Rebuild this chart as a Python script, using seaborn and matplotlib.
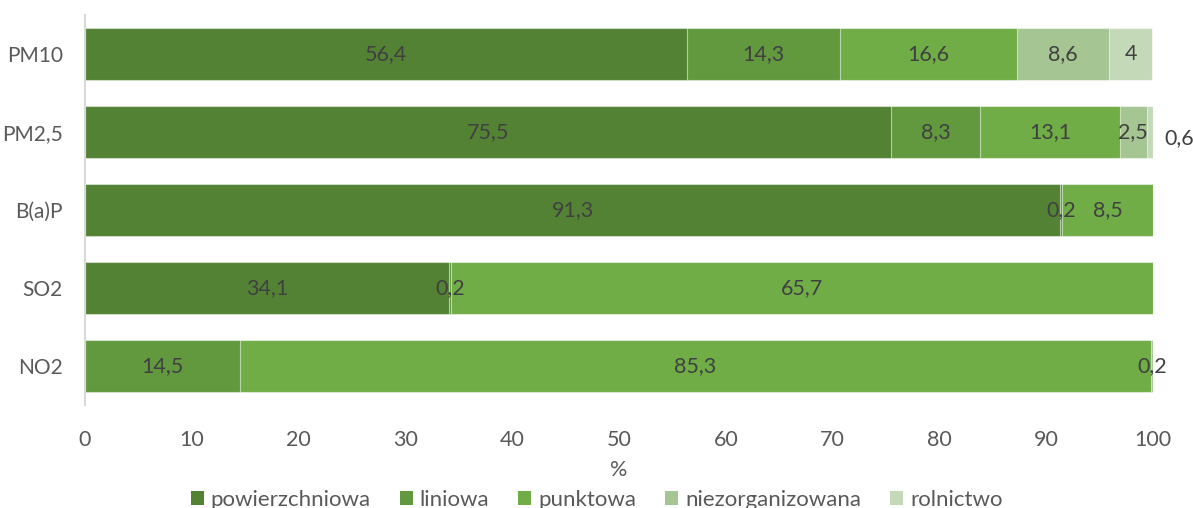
import matplotlib
matplotlib.use("Agg")
import matplotlib.pyplot as plt
from matplotlib.patches import Patch
import seaborn as sns
import pandas as pd
import numpy as np

categories = ["PM10", "PM2,5", "B(a)P", "SO2", "NO2"]
series = ["powierzchniowa", "liniowa", "punktowa", "niezorganizowana", "rolnictwo"]
powierzchniowa = [56.4, 75.5, 91.3, 34.1, 0.0]
liniowa = [14.3, 8.3, 0.2, 0.2, 14.5]
punktowa = [16.6, 13.1, 8.5, 65.7, 85.3]
niezorganizowana = [8.6, 2.5, 0.0, 0.0, 0.2]
rolnictwo = [4.0, 0.6, 0.0, 0.0, 0.0]
colors = ["#548235", "#62993E", "#70AD47", "#A5C592", "#C4D9B8"]
xticks = [0, 10, 20, 30, 40, 50, 60, 70, 80, 90, 100]

values = np.array([powierzchniowa, liniowa, punktowa, niezorganizowana, rolnictwo])
cum = values.cumsum(axis=0)

sns.set_theme(style="white")
plt.rcParams["font.family"] = ["Lato", "DejaVu Sans"]

fig = plt.figure(figsize=(11.93, 5.08), dpi=100)
ax = fig.add_axes([85 / 1193, 1 - 405 / 508, (1153 - 85) / 1193, 390 / 508])

# draw cumulative totals from last to first so each segment shows its own colour
for i in range(len(series) - 1, -1, -1):
    df = pd.DataFrame({"cat": categories, "val": cum[i]})
    sns.barplot(data=df, x="val", y="cat", orient="h", color=colors[i],
                saturation=1, width=0.67, edgecolor=(1, 1, 1, 0.55),
                linewidth=0.8, ax=ax, errorbar=None)

def fmt(v):
    s = ("%.1f" % v).rstrip("0").rstrip(".")
    return s.replace(".", ",")

for i in range(len(series)):
    for j, cat in enumerate(categories):
        v = values[i, j]
        if v <= 0:
            continue
        if series[i] == "rolnictwo" and cat == "PM2,5":
            ax.text(cum[i, j] + 1.1, j + 0.08, fmt(v), ha="left", va="center",
                    fontsize=15.5, color="#404040")
        else:
            ax.text(cum[i, j] - v / 2, j, fmt(v), ha="center", va="center",
                    fontsize=15.5, color="#404040")

ax.set_xlim(0, 100)
ax.set_ylim(4.5, -0.5)
ax.set_xticks(xticks)
ax.set_xticklabels([str(t) for t in xticks])
ax.set_xlabel("%", fontsize=15.5, color="#595959", labelpad=7)
ax.set_ylabel("")
ax.tick_params(axis="x", length=0, labelsize=15.5, labelcolor="#595959", pad=18)
ax.tick_params(axis="y", length=0, labelsize=15, labelcolor="#595959", pad=16)
for s in ["top", "right", "bottom"]:
    ax.spines[s].set_visible(False)
ax.spines["left"].set_color("#D9D9D9")
ax.spines["left"].set_linewidth(1.5)
ax.grid(False)

handles = [Patch(facecolor=c, edgecolor="none") for c in colors]
fig.legend(handles, series, loc="center", bbox_to_anchor=(0.5, 1 - 500 / 508),
           ncol=5, frameon=False, fontsize=16, handlelength=0.6, handleheight=0.6,
           handletextpad=0.3, columnspacing=1.3, labelcolor="#595959")

fig.savefig("out.png", dpi=100)
